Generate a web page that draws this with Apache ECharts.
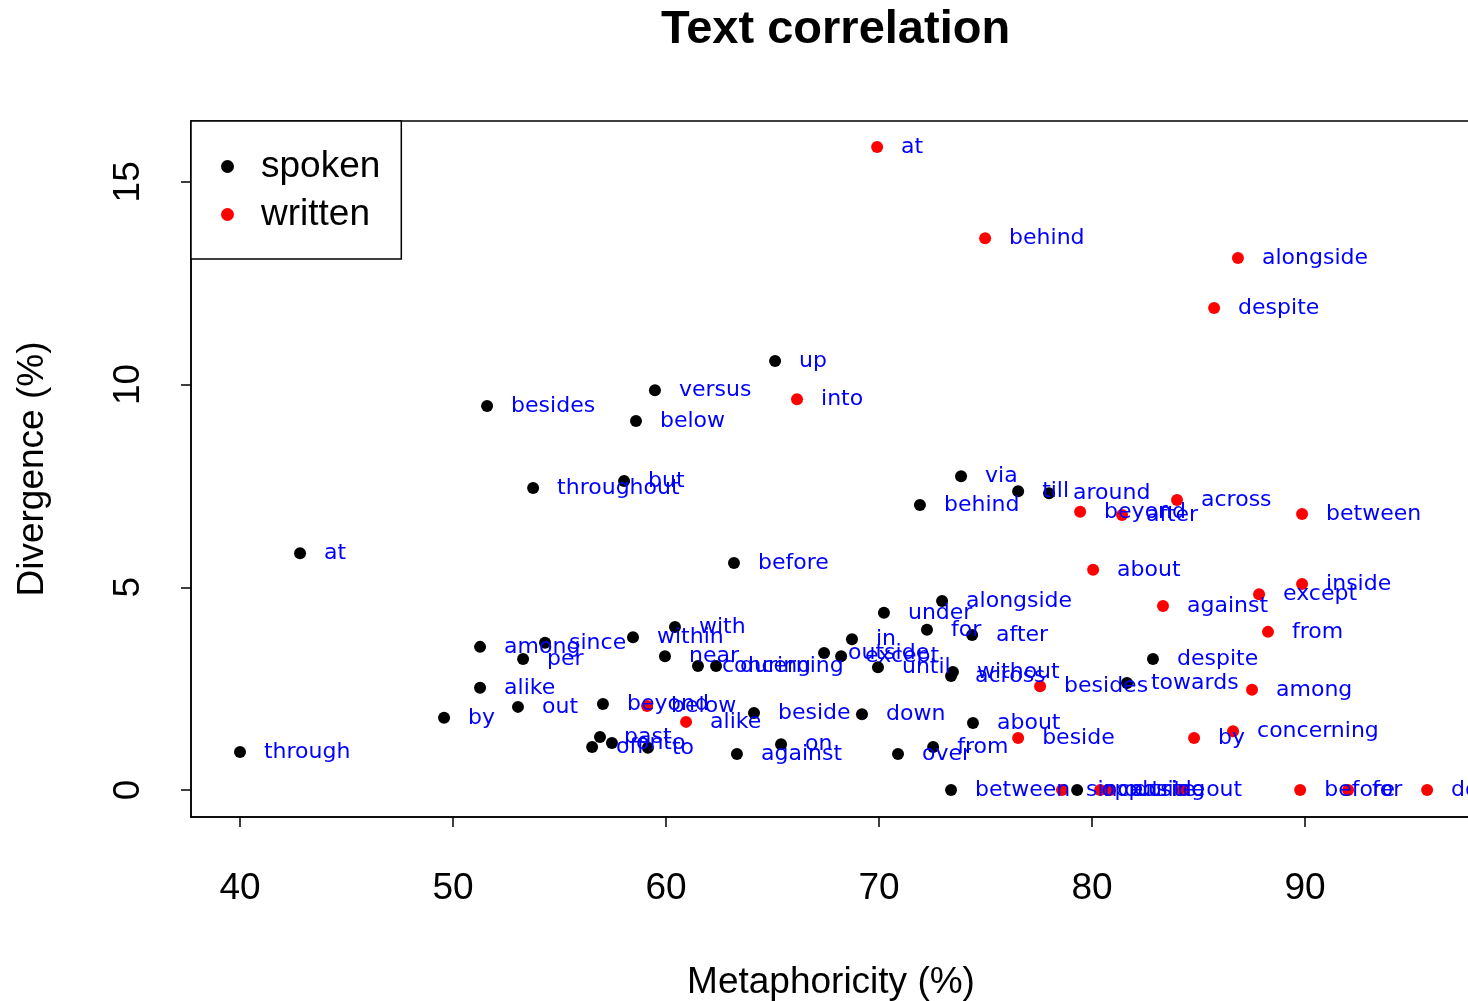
<!DOCTYPE html>
<html>
<head>
<meta charset="utf-8">
<script src="https://cdn.jsdelivr.net/npm/echarts@6/dist/echarts.min.js"></script>
<style>
html, body { margin: 0; padding: 0; background: #fff; }
#main { width: 1468px; height: 1001px; }
</style>
</head>
<body>
<div id="main"></div>
<script>
var spokenWords = ['at', 'through', 'besides', 'throughout', 'but', 'versus', 'below', 'up', 'before',
	'among', 'since', 'per', 'within', 'with', 'near', 'concerning', 'during', 'alike', 'out', 'by',
	'beyond', 'past', 'off', 'onto', 'to', 'against', 'on', 'beside', 'down', 'over', 'from', 'about',
	'under', 'alongside', 'for', 'after', 'in', 'outside', 'except', 'until', 'without', 'across',
	'despite', 'towards', 'via', 'behind', 'till', 'around', 'between', 'opposite'];
var spokenX = [42.82, 40.0, 51.60, 53.76, 58.03, 59.48, 58.59, 65.12, 63.19,
	51.27, 54.32, 53.29, 58.45, 60.42, 59.95, 61.50, 62.35, 51.27, 53.05, 49.58,
	57.04, 56.90, 56.53, 57.46, 59.15, 63.33, 65.40, 64.13, 69.20, 70.89, 72.54, 74.41,
	70.23, 72.96, 72.25, 74.37, 68.73, 67.42, 68.22, 69.95, 73.47, 73.38,
	82.86, 81.64, 73.85, 71.92, 76.53, 77.98, 73.38, 79.30];
var spokenY = [5.84, 0.94, 9.47, 7.45, 7.62, 9.86, 9.10, 10.58, 5.60,
	3.53, 3.63, 3.23, 3.77, 4.02, 3.30, 3.06, 3.06, 2.52, 2.05, 1.78,
	2.12, 1.31, 1.06, 1.16, 1.04, 0.89, 1.13, 1.90, 1.87, 0.89, 1.06, 1.65,
	4.37, 4.66, 3.95, 3.82, 3.72, 3.38, 3.30, 3.03, 2.91, 2.81,
	3.23, 2.64, 7.74, 7.03, 7.37, 7.32, 0, 0];

var writtenWords = ['at', 'behind', 'alongside', 'despite', 'into', 'beyond', 'after', 'across',
	'between', 'about', 'inside', 'except', 'against', 'from', 'besides', 'among', 'concerning',
	'by', 'beside', 'below', 'alike', 'since', 'outside', 'during', 'out', 'before', 'for', 'down'];
var writtenX = [69.91, 74.98, 86.85, 85.73, 66.15, 79.44, 81.41, 83.99,
	89.86, 80.05, 89.86, 87.84, 83.33, 88.26, 77.56, 87.51, 86.62,
	84.79, 76.53, 59.11, 60.94, 78.59, 80.38, 80.85, 84.23, 89.77, 92.02, 95.73];
var writtenY = [15.86, 13.61, 13.12, 11.89, 9.64, 6.86, 6.78, 7.15,
	6.81, 5.43, 5.08, 4.83, 4.54, 3.90, 2.56, 2.47, 1.45,
	1.28, 1.28, 2.07, 1.68, 0, 0, 0, 0, 0, 0, 0];

var xTicks = [40, 50, 60, 70, 80, 90];
var yTicks = [0, 5, 10, 15];

function points(words, xs, ys) {
	return words.map(function(w, i) {
		return { name: w, value: [xs[i], ys[i]] };
	});
}

var myChart = echarts.init(document.getElementById('main'));

var labelStyle = {
	show: true,
	formatter: '{b}',
	position: 'right',
	distance: 18,
	color: '#0000ff',
	opacity: 1,
	fontFamily: 'DejaVu Sans',
	fontSize: 22
};

var option = {
	animation: false,
	backgroundColor: '#fff',
	title: {
		text: 'Text correlation',
		left: 656,
		top: 2,
		textStyle: {
			fontFamily: 'Liberation Sans',
			fontWeight: 'bold',
			fontSize: 47,
			color: '#000'
		}
	},
	legend: {
		left: 191,
		top: 121,
		orient: 'vertical',
		icon: 'circle',
		itemWidth: 13,
		itemHeight: 13,
		itemGap: 11,
		padding: [27, 21, 26, 30],
		borderColor: '#000',
		borderWidth: 1.5,
		backgroundColor: '#fff',
		z: 10,
		selectedMode: false,
		itemStyle: { opacity: 1 },
		textStyle: {
			fontFamily: 'Liberation Sans',
			fontSize: 37,
			lineHeight: 37,
			color: '#000',
			padding: [0, 0, 0, 22]
		},
		data: ['spoken', 'written']
	},
	grid: {
		left: 191,
		top: 121,
		right: -3,
		bottom: 184,
		outerBoundsMode: 'none',
		containLabel: false,
		show: true,
		borderColor: '#000',
		borderWidth: 1.5
	},
	xAxis: {
		type: 'value',
		min: 37.70,
		max: 97.79,
		name: 'Metaphoricity (%)',
		nameLocation: 'middle',
		nameGap: 147,
		nameTextStyle: { fontFamily: 'Liberation Sans', fontSize: 37, color: '#000' },
		axisLine: { show: true, onZero: false, lineStyle: { color: '#000', width: 1.5 } },
		axisTick: { show: true, length: 10, customValues: xTicks, lineStyle: { color: '#000', width: 1.5 } },
		axisLabel: { customValues: xTicks, margin: 53, fontFamily: 'Liberation Sans', fontSize: 37, color: '#000' },
		splitLine: { show: false }
	},
	yAxis: {
		type: 'value',
		min: -0.666,
		max: 16.5,
		name: 'Divergence (%)',
		nameLocation: 'middle',
		nameGap: 140,
		nameTextStyle: { fontFamily: 'Liberation Sans', fontSize: 37, color: '#000' },
		axisLine: { show: true, onZero: false, lineStyle: { color: '#000', width: 1.5 } },
		axisTick: { show: true, length: 10, customValues: yTicks, lineStyle: { color: '#000', width: 1.5 } },
		axisLabel: { customValues: yTicks, rotate: 90, margin: 44, fontFamily: 'Liberation Sans', fontSize: 37, color: '#000' },
		splitLine: { show: false }
	},
	series: [{
		name: 'spoken',
		type: 'scatter',
		symbolSize: 12,
		itemStyle: { color: '#000', opacity: 1 },
		label: labelStyle,
		emphasis: { disabled: true },
		data: points(spokenWords, spokenX, spokenY)
	}, {
		name: 'written',
		type: 'scatter',
		symbolSize: 12,
		itemStyle: { color: '#ff0000', opacity: 1 },
		label: labelStyle,
		emphasis: { disabled: true },
		data: points(writtenWords, writtenX, writtenY)
	}]
};

myChart.setOption(option);
</script>
</body>
</html>
